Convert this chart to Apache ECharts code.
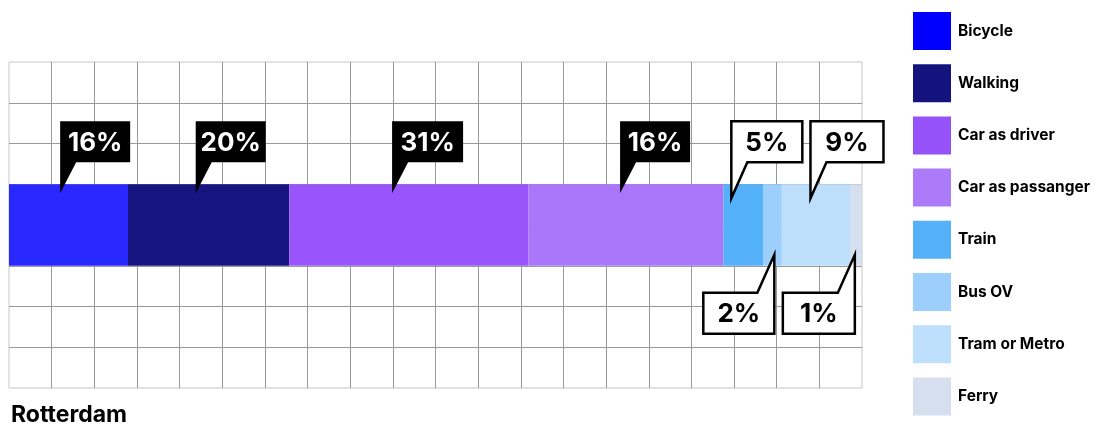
<!DOCTYPE html>
<html>
<head>
<meta charset="utf-8">
<script src="https://cdn.jsdelivr.net/npm/echarts@6/dist/echarts.min.js"></script>
<style>
html,body{margin:0;padding:0;background:#fff;}
#chart{width:1109px;height:427px;}
</style>
</head>
<body>
<div id="chart"></div>
<script>
// ---- data ----
const city = 'Rotterdam';
const modes = ['Bicycle', 'Walking', 'Car as driver', 'Car as passanger', 'Train', 'Bus OV', 'Tram or Metro', 'Ferry'];
const shares = [13.95, 18.9, 28.05, 22.85, 4.65, 2.2, 8.0, 1.4];
const shareLabels = ['16%', '20%', '31%', '16%', '5%', '2%', '9%', '1%'];

// ---- styles ----
const colors = ['#2828ff', '#16147f', '#9955f9', '#aa77fb', '#56b1fb', '#9ccffc', '#bddffc', '#d5dff0'];
const legendColors = ['#0000ff', '#14137e', '#9452f8', '#ab7bfa', '#56b1fb', '#9ccffc', '#bddffc', '#d5dff0'];
// callout style: where along the segment the pointer sits, side, and theme
const calloutFrac = [0.43, 0.42, 0.43, 0.47, 0.2, 0.6, 0.42, 0.4];
const calloutBelow = [false, false, false, false, false, true, false, true];
const calloutDark = [true, true, true, true, false, false, false, false];
const calloutWidth = [70, 70, 71, 70, 71, 71, 73, 72];

// anchor values (data units) derived from stacked values
const starts = [];
let acc = 0;
shares.forEach(v => { starts.push(acc); acc += v; });
const calloutData = shares.map((v, i) => [starts[i] + v * calloutFrac[i], 0, i]);

const chart = echarts.init(document.getElementById('chart'), null, {renderer: 'canvas'});

const fontFam = 'Inter, "Liberation Sans", Arial, sans-serif';

const barSeries = modes.map((m, i) => ({
  name: m,
  type: 'bar',
  stack: 'total',
  xAxisIndex: 0,
  yAxisIndex: 0,
  barWidth: '25%',
  itemStyle: {color: colors[i]},
  emphasis: {disabled: true},
  data: [shares[i]],
  z: 2
}));

function renderCallout(params, api) {
  const i = api.value(2);
  const pt = api.coord([api.value(0), api.value(1)]);
  const band = api.size([0, 1])[1];
  const half = band * 0.25 / 2;
  const barTop = pt[1] - half;
  const barBot = pt[1] + half;
  const x = pt[0];
  const w = calloutWidth[i];
  const h = 41;
  const dark = calloutDark[i];
  let pts, tx, ty;
  if (!calloutBelow[i]) {
    const B = barTop - 22, T = B - h;
    const tipY = barTop + (dark ? 9 : 14);
    pts = [[x, T], [x + w, T], [x + w, B], [x + 16, B], [x, tipY]];
    tx = x + w / 2; ty = T + h / 2;
  } else {
    const T = barBot + 27, B = T + h;
    const tipY = barBot - 11;
    pts = [[x - w, T], [x - 17, T], [x, tipY], [x, B], [x - w, B]];
    tx = x - w / 2; ty = T + h / 2;
  }
  return {
    type: 'group',
    children: [
      {
        type: 'polygon',
        shape: {points: pts},
        style: dark ? {fill: '#000', stroke: null} : {fill: '#fff', stroke: '#000', lineWidth: 2.5, lineJoin: 'miter'}
      },
      {
        type: 'text',
        style: {
          text: shareLabels[i], x: tx, y: ty + 1,
          align: 'center', verticalAlign: 'middle',
          fill: dark ? '#fff' : '#000',
          font: 'bold 26px ' + fontFam
        }
      }
    ]
  };
}

const option = {
  backgroundColor: '#fff',
  animation: false,
  title: {
    text: city,
    left: 6,
    top: 399,
    textStyle: {fontFamily: fontFam, fontWeight: 'bold', fontSize: 23, color: '#000'}
  },
  legend: {
    orient: 'vertical',
    left: 908,
    top: 7,
    itemWidth: 38,
    itemHeight: 38,
    itemGap: 14.2,
    icon: 'rect',
    selectedMode: false,
    textStyle: {fontFamily: fontFam, fontWeight: 'bold', fontSize: 15.5, color: '#000', padding: [0, 0, 0, 2]},
    data: modes.map((m, i) => ({name: m, itemStyle: {color: legendColors[i]}}))
  },
  grid: {
    left: 9, top: 62, width: 853, height: 326,
    show: true, borderColor: '#c6c6c6', borderWidth: 1, backgroundColor: 'transparent',
    containLabel: false
  },
  xAxis: {
    type: 'value', min: 0, max: 100, interval: 5,
    axisLabel: {show: false}, axisLine: {show: false}, axisTick: {show: false},
    splitLine: {show: true, showMinLine: false, showMaxLine: false, lineStyle: {color: '#9a9a9a', width: 1}}
  },
  yAxis: [
    {
      type: 'category', data: [city],
      axisLabel: {show: false}, axisLine: {show: false}, axisTick: {show: false},
      splitLine: {show: false}
    },
    {
      type: 'value', min: 0, max: 8, interval: 1,
      axisLabel: {show: false}, axisLine: {show: false}, axisTick: {show: false},
      splitLine: {show: true, showMinLine: false, showMaxLine: false, lineStyle: {color: '#9a9a9a', width: 1}}
    }
  ],
  series: barSeries.concat([{
    type: 'custom',
    name: 'labels',
    xAxisIndex: 0,
    yAxisIndex: 0,
    clip: false,
    silent: true,
    z: 10,
    renderItem: renderCallout,
    data: calloutData
  }])
};

chart.setOption(option);
</script>
</body>
</html>
